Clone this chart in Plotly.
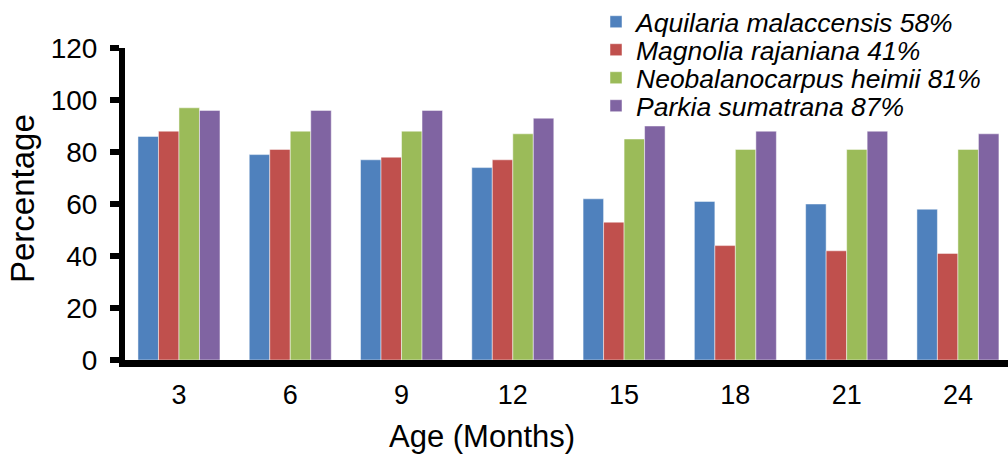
import plotly.graph_objects as go

ages = ["3", "6", "9", "12", "15", "18", "21", "24"]
series_names = [
    "Aquilaria malaccensis 58%",
    "Magnolia rajaniana 41%",
    "Neobalanocarpus heimii 81%",
    "Parkia sumatrana 87%",
]
aquilaria = [86, 79, 77, 74, 62, 61, 60, 58]
magnolia = [88, 81, 78, 77, 53, 44, 42, 41]
neobalanocarpus = [97, 88, 88, 87, 85, 81, 81, 81]
parkia = [96, 96, 96, 93, 90, 88, 88, 87]
colors = ["#4F81BD", "#C0504D", "#9BBB59", "#8064A2"]
x_title = "Age (Months)"
y_title = "Percentage"

FONT = "Liberation Sans, Arial, sans-serif"
W, H = 1008, 454
ML, MR, MT, MB = 125, 0, 48, 94
plot_h = H - MT - MB
plot_w = W - ML - MR

fig = go.Figure()
all_values = [aquilaria, magnolia, neobalanocarpus, parkia]
legend_ids = ["legend", "legend2", "legend3", "legend4"]
for name, vals, col, lid in zip(series_names, all_values, colors, legend_ids):
    fig.add_trace(go.Bar(
        x=ages, y=vals, name=name, legend=lid,
        marker=dict(color=col, line=dict(color="rgba(255,255,255,0.6)", width=0.8)),
    ))

legend_centers_px = [22, 50, 78, 106]
legend_left_px = 596
leg_common = dict(
    xanchor="left", yanchor="middle", bgcolor="rgba(0,0,0,0)", borderwidth=0,
    font=dict(family=FONT, size=26.5, color="black", style="italic"),
)
layout_legends = {}
for lid, yc in zip(legend_ids, legend_centers_px):
    layout_legends[lid] = dict(
        x=(legend_left_px - ML) / plot_w,
        y=(H - MB - yc) / plot_h,
        **leg_common,
    )

fig.update_layout(
    width=W, height=H,
    margin=dict(l=ML, r=MR, t=MT, b=MB, autoexpand=False),
    paper_bgcolor="white", plot_bgcolor="white",
    barmode="group", bargap=0.263, bargroupgap=0,
    showlegend=True,
    font=dict(family=FONT, color="black"),
    **layout_legends,
)

fig.add_annotation(
    text=x_title, xref="paper", yref="paper",
    x=(482 - ML) / plot_w, y=(H - MB - 436) / plot_h,
    xanchor="center", yanchor="middle", showarrow=False,
    font=dict(family=FONT, size=31, color="black"),
)
fig.add_annotation(
    text=y_title, xref="paper", yref="paper",
    x=(23 - ML) / plot_w, y=(H - MB - 199) / plot_h,
    xanchor="center", yanchor="middle", showarrow=False, textangle=-90,
    font=dict(family=FONT, size=33, color="black"),
)

fig.update_xaxes(
    type="category", range=[-0.485, 7.45],
    showline=True, linecolor="black", linewidth=7,
    ticks="", showgrid=False, zeroline=False,
    tickfont=dict(family=FONT, size=27, color="black"),
    ticklabelstandoff=5,
    automargin=False,
)
fig.update_yaxes(
    range=[0, 120], dtick=20, tick0=0,
    showline=True, linecolor="black", linewidth=6,
    ticks="outside", ticklen=9, tickwidth=6, tickcolor="black",
    showgrid=False, zeroline=False,
    tickfont=dict(family=FONT, size=28, color="black"),
    ticklabelstandoff=7,
    automargin=False,
)

fig.write_html(
    "out.html",
    config={"displayModeBar": False},
    post_script="document.body.style.margin='0';document.body.style.overflow='hidden';",
)
